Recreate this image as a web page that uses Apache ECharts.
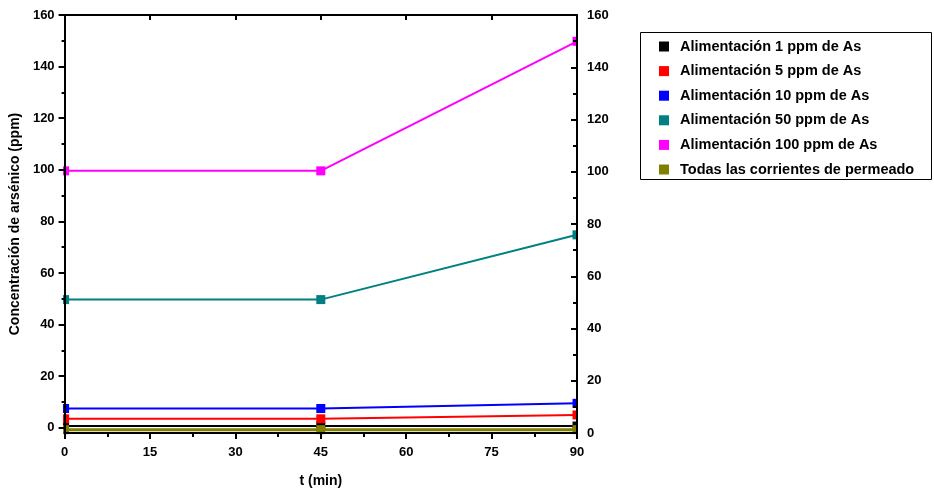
<!DOCTYPE html>
<html>
<head>
<meta charset="utf-8">
<script src="https://cdn.jsdelivr.net/npm/echarts@6/dist/echarts.min.js"></script>
<style>
  html, body { margin: 0; padding: 0; background: #ffffff; }
  #chart { width: 934px; height: 493px; }
</style>
</head>
<body>
<div id="chart"></div>
<script>
// Sampling times (min)
const times = [0, 45, 90];

// Arsenic concentration (ppm) for each stream
const feed1 = [0.7, 0.7, 0.7];
const feed5 = [3.5, 3.5, 5.0];
const feed10 = [7.5, 7.5, 9.5];
const feed50 = [49.7, 49.7, 74.8];
const feed100 = [99.6, 99.6, 149.8];
const permeate = [-0.7, -0.7, -0.7];

const seriesNames = [
  'Alimentación 1 ppm de As',
  'Alimentación 5 ppm de As',
  'Alimentación 10 ppm de As',
  'Alimentación 50 ppm de As',
  'Alimentación 100 ppm de As',
  'Todas las corrientes de permeado'
];
const seriesColors = ['#000000', '#ff0000', '#0000ff', '#008080', '#ff00ff', '#808000'];
const seriesValues = [feed1, feed5, feed10, feed50, feed100, permeate];

// Axis ticks
const yTicks = [0, 20, 40, 60, 80, 100, 120, 140, 160];
const yMinorTicks = [10, 30, 50, 70, 90, 110, 130, 150];

// Layout of the plotting area
const G = { left: 63, top: 15, width: 514, height: 418 };

const FONT = 'Liberation Sans';
const labelStyle = { color: '#000', fontFamily: FONT, fontWeight: 'bold', fontSize: 13 };
const axisLine = { show: true, onZero: false, lineStyle: { color: '#000', width: 2 } };

const chart = echarts.init(document.getElementById('chart'), null, { renderer: 'canvas' });

const series = seriesNames.map((name, i) => ({
  name: name,
  type: 'line',
  xAxisIndex: 0,
  yAxisIndex: 0,
  z: 2 + i * 0.01,
  data: times.map((t, k) => [t, seriesValues[i][k]]),
  symbol: 'rect',
  symbolSize: 9,
  showSymbol: true,
  clip: false,
  lineStyle: { color: seriesColors[i], width: i === 5 ? 3 : 2 },
  itemStyle: { color: seriesColors[i] },
  emphasis: { disabled: true },
  animation: false
}));

chart.setOption({
  animation: false,
  backgroundColor: '#ffffff',
  grid: { left: G.left, top: G.top, width: G.width, height: G.height, containLabel: false },
  legend: {
    data: seriesNames,
    orient: 'vertical',
    left: 659,
    top: 39,
    padding: 0,
    itemWidth: 10,
    itemHeight: 10,
    itemGap: 9.6,
    icon: 'rect',
    selectedMode: false,
    textStyle: { color: '#000', fontFamily: FONT, fontWeight: 'bold', fontSize: 14.5, lineHeight: 15, padding: [0, 0, 0, 6] }
  },
  xAxis: [
    {
      type: 'value', position: 'bottom', min: 0, max: 90, interval: 15, z: 10,
      name: 't (min)', nameLocation: 'middle', nameGap: 41,
      nameTextStyle: { color: '#000', fontFamily: FONT, fontWeight: 'bold', fontSize: 14 },
      axisLine: axisLine,
      axisTick: { show: true, inside: false, length: 6, lineStyle: { color: '#000', width: 2 } },
      minorTick: { show: true, splitNumber: 2, length: 4, lineStyle: { color: '#000', width: 2 } },
      axisLabel: Object.assign({ margin: 13 }, labelStyle),
      splitLine: { show: false }
    },
    {
      type: 'value', position: 'top', min: 0, max: 90, interval: 15, z: 10,
      axisLine: axisLine,
      axisTick: { show: true, inside: true, length: 5, lineStyle: { color: '#000', width: 2 } },
      axisLabel: { show: false },
      splitLine: { show: false }
    }
  ],
  yAxis: [
    {
      type: 'value', position: 'left', min: -2, max: 160, z: 10, offset: 0,
      name: 'Concentración de arsénico (ppm)', nameLocation: 'middle', nameGap: 37,
      nameTextStyle: { color: '#000', fontFamily: FONT, fontWeight: 'bold', fontSize: 14 },
      axisLine: axisLine,
      axisTick: { show: true, inside: false, length: 6, customValues: yTicks, lineStyle: { color: '#000', width: 2 } },
      axisLabel: Object.assign({ margin: 10, customValues: yTicks }, labelStyle),
      splitLine: { show: false }
    },
    {
      type: 'value', position: 'right', min: 0, max: 160, interval: 20, z: 10, offset: 0,
      axisLine: axisLine,
      axisTick: { show: true, inside: true, length: 6, lineStyle: { color: '#000', width: 2 } },
      minorTick: { show: true, splitNumber: 2, length: 4, lineStyle: { color: '#000', width: 2 } },
      axisLabel: Object.assign({ margin: 10 }, labelStyle),
      splitLine: { show: false }
    },
    {
      // minor ticks of the left axis
      type: 'value', position: 'left', min: -2, max: 160, z: 10, offset: 0,
      axisLine: { show: false },
      axisTick: { show: true, inside: false, length: 3, customValues: yMinorTicks, lineStyle: { color: '#000', width: 2 } },
      axisLabel: { show: false },
      splitLine: { show: false }
    }
  ],
  graphic: [
    // white masks trimming the symbols at the frame edges
    { type: 'rect', z: 5, silent: true, shape: { x: G.left - 12, y: G.top - 6, width: 12, height: G.height + 12 }, style: { fill: '#fff' } },
    { type: 'rect', z: 5, silent: true, shape: { x: G.left + G.width, y: G.top - 6, width: 12, height: G.height + 12 }, style: { fill: '#fff' } },
    // legend frame
    { type: 'rect', z: 1, silent: true, shape: { x: 640.5, y: 32.5, width: 291, height: 147 }, style: { fill: 'none', stroke: '#000', lineWidth: 1 } }
  ],
  series: series
});
</script>
</body>
</html>
